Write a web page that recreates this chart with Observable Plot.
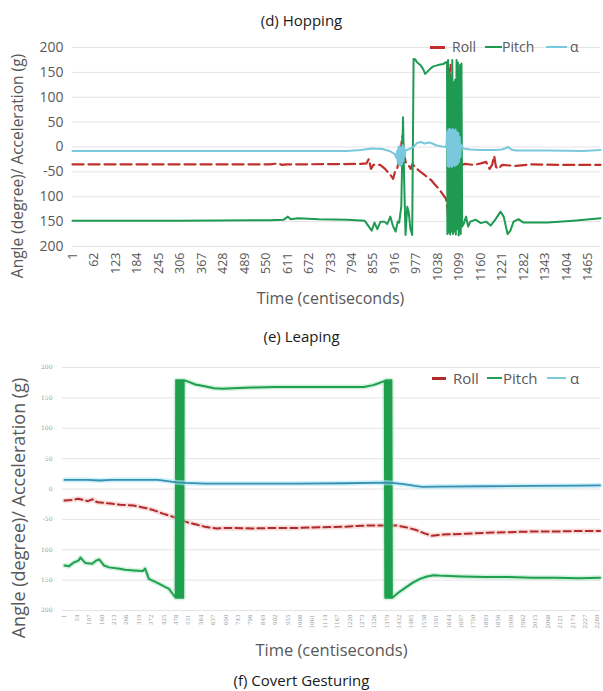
<!DOCTYPE html>
<html><head><meta charset="utf-8">
<script src="https://cdn.jsdelivr.net/npm/d3@7"></script>
<script src="https://cdn.jsdelivr.net/npm/@observablehq/plot@0.6"></script>
<style>
body{margin:0;background:#fff;font-family:"Open Sans",sans-serif;}
#wrap{position:relative;width:603px;height:691px;overflow:hidden;background:#fff;}
.t{position:absolute;left:0;width:603px;text-align:center;color:#1a1a1a;font-size:15px;line-height:20px;}
.chart{position:absolute;left:0;}
.lg{position:absolute;color:#595959;line-height:18px;white-space:nowrap;}
.sw{position:absolute;height:0;}
</style></head><body><div id="wrap">
<div class="t" style="top:10px">(d) Hopping</div>
<div class="chart" id="c1" style="top:30px"></div>
<div class="t" style="top:326px">(e) Leaping</div>
<div class="chart" id="c2" style="top:350px"></div>
<div class="t" style="top:670px">(f) Covert Gesturing</div>
</div>
<script>
// ---------- shared ----------
const seriesNames = ["Roll", "Pitch", "α"];
const yTickVals = [200, 150, 100, 50, 0, -50, -100, -150, -200];
const yTickLabels = ["200", "150", "100", "50", "0", "-50", "100", "150", "200"];
const yTitle = "Angle (degree)/ Acceleration (g)";
const xTitle = "Time (centiseconds)";

// ---------- (d) Hopping ----------
const hopTicksX = [1,62,123,184,245,306,367,428,489,550,611,672,733,794,855,916,977,1038,1099,1160,1221,1282,1343,1404,1465];
const hopRoll = [[0,-35],[300,-35],[560,-35],[585,-33],[595,-36],[610,-35],[820,-34],[835,-33],[842,-24],[848,-44],[855,-36],[874,-36],[888,-44],[903,-56],[911,-64],[916,-50],[922,-44],[930,-20],[937,22],[942,-10],[946,-30],[952,-34],[961,-44],[966,-34],[975,-42],[989,-50],[1000,-56],[1018,-66],[1030,-76],[1041,-84],[1052,-95],[1061,-104],[1066,-130],[1068,-170],[1070,160],[1072,90],[1074,165],[1076,-150],[1080,-170],[1086,-40],[1092,-120],[1098,-60],[1104,-36],[1115,-34],[1140,-36],[1160,-33],[1175,-30],[1185,-44],[1192,-36],[1198,-18],[1203,-40],[1210,-44],[1220,-36],[1260,-38],[1300,-35],[1400,-36],[1500,-36]];
const hopPitch = [[0,-148],[300,-148],[560,-147],[600,-146],[612,-140],[620,-145],[640,-143],[700,-145],[780,-146],[830,-148],[842,-160],[850,-168],[858,-152],[866,-165],[875,-150],[886,-150],[894,-155],[903,-140],[910,-158],[918,-170],[924,-150],[928,-152],[934,-120],[939,60],[942,-60],[946,-177],[951,-120],[955,-130],[960,-165],[965,-177],[969,177],[974,176],[978,171],[983,168],[988,165],[995,158],[1002,147],[1009,152],[1016,157],[1025,162],[1035,164],[1045,166],[1054,167],[1060,170],[1064,171],
[1065,-175],[1067,175],[1069,-172],[1071,150],[1073,-176],[1075,140],[1077,-170],[1079,175],[1081,-175],[1083,130],[1085,-170],[1087,135],[1089,-176],[1091,175],[1093,-165],[1095,170],[1097,-178],[1099,-120],[1101,165],[1103,-175],[1105,168],[1107,-160],
[1111,-155],[1118,-140],[1124,-160],[1130,-150],[1145,-146],[1160,-153],[1175,-150],[1188,-158],[1202,-145],[1216,-130],[1225,-140],[1236,-175],[1244,-168],[1253,-150],[1267,-145],[1281,-152],[1349,-152],[1423,-148],[1500,-143]];
const hopAlpha = [[0,-8],[500,-8],[780,-8],[820,-6],[850,-3],[880,-4],[900,-8],[915,-14],
[920,-22],[922,-8],[924,-32],[926,0],[928,-36],[930,2],[932,-38],[934,-2],[936,-34],[938,4],[940,-28],[942,0],[944,-20],[946,-6],[950,-6],
[960,-3],[969,0],[978,8],[990,10],[1000,7],[1015,9],[1035,3],[1050,1],[1062,0],
[1064,30],[1066,-38],[1068,35],[1070,-40],[1072,36],[1074,-38],[1076,34],[1078,-40],[1080,36],[1082,-36],[1084,33],[1086,-38],[1088,35],[1090,-36],[1092,30],[1094,-34],[1096,28],[1098,-30],[1100,20],[1102,-20],[1104,5],
[1110,-3],[1130,-5],[1160,-6],[1200,-6],[1220,-5],[1232,-2],[1238,0],[1246,-5],[1260,-7],[1350,-7],[1450,-8],[1500,-6]];

// ---------- (e) Leaping ----------
const leapTicksX = [1,54,107,160,213,266,319,372,425,478,531,584,637,690,743,796,849,902,955,1008,1061,1114,1167,1220,1273,1326,1379,1432,1485,1538,1591,1644,1697,1750,1803,1856,1909,1962,2015,2068,2121,2174,2227,2280];
const leapRoll = [[1,-19],[30,-18],[60,-16],[80,-18],[100,-20],[120,-17],[142,-22],[170,-23],[198,-24],[240,-26],[296,-27],[330,-30],[356,-32],[390,-36],[424,-41],[467,-46],[500,-51],[527,-55],[560,-58],[600,-62],[650,-65],[700,-64],[800,-65],[900,-64],[1000,-64],[1100,-63],[1200,-62],[1300,-60],[1380,-60],[1420,-60],[1460,-63],[1500,-67],[1540,-73],[1570,-77],[1620,-75],[1700,-74],[1800,-72],[1900,-71],[2000,-70],[2100,-70],[2200,-69],[2290,-69]];
const leapPitch = [[1,-126],[20,-127],[40,-121],[60,-118],[69,-113],[90,-122],[119,-123],[135,-118],[149,-116],[170,-126],[191,-129],[230,-131],[260,-133],[296,-134],[335,-135],[345,-131],[352,-138],[361,-148],[400,-155],[430,-161],[446,-164],[462,-172],[474,-178],
[476,-179],[478,179],[480,-179],[482,179],[484,-179],[486,179],[488,-179],[490,179],[492,-179],[494,179],[496,-179],[498,179],[500,-179],[502,179],[504,-179],[506,179],[508,-179],[510,179],
[520,178],[535,176],[560,172],[600,169],[640,166],[680,165],[720,166],[800,167],[900,168],[1000,168],[1100,168],[1200,168],[1280,168],[1320,171],[1350,175],[1370,178],
[1372,-179],[1374,179],[1376,-179],[1378,179],[1380,-179],[1382,179],[1384,-179],[1386,179],[1388,-179],[1390,179],[1392,-179],[1394,179],[1396,-179],[1398,179],[1400,-179],[1402,-179],
[1430,-170],[1460,-162],[1490,-154],[1520,-148],[1550,-144],[1580,-142],[1620,-143],[1700,-144],[1800,-145],[1900,-145],[2000,-146],[2100,-146],[2200,-147],[2290,-146]];
const leapAlpha = [[1,15],[100,15],[150,14],[200,15],[300,15],[400,15],[440,13],[480,11],[520,10],[600,9],[800,9],[1000,9],[1200,9.5],[1370,10.5],[1400,10],[1450,8],[1500,5],[1530,3.5],[1600,4],[1800,4.5],[2000,5],[2200,5.5],[2290,6]];

const fmtY = d => yTickLabels[yTickVals.indexOf(d)];
const X = d => d[0], Y = d => d[1];

function build(cfg) {
  const halo = cfg.halo;
  const marks = [
    Plot.gridY(yTickVals, {stroke: "#e4e4e4", strokeOpacity: 1, strokeWidth: 1}),
    Plot.axisY(yTickVals, {tickFormat: fmtY, tickSize: 0, tickPadding: cfg.yPad, fontSize: cfg.yFont, fill: cfg.tickColor, fontFamily: cfg.tickFamily, label: null}),
    Plot.axisX(cfg.ticksX, {tickFormat: d => String(d), tickRotate: -90, tickSize: 0, tickPadding: cfg.xPad, fontSize: cfg.xFont, fill: cfg.tickColor, fontFamily: cfg.tickFamily, label: null})
  ];
  if (halo) {
    marks.push(Plot.line(cfg.roll, {x: X, y: Y, stroke: "#f3b9b9", strokeWidth: 5, strokeOpacity: 0.5}));
  }
  marks.push(Plot.line(cfg.roll, {x: X, y: Y, stroke: cfg.cRoll, strokeWidth: cfg.wRoll, strokeDasharray: cfg.dash}));
  if (halo) {
    marks.push(Plot.line(cfg.pitch, {x: X, y: Y, stroke: "#a6e3bd", strokeWidth: 5, strokeOpacity: 0.5}));
  }
  marks.push(Plot.line(cfg.pitch, {x: X, y: Y, stroke: cfg.cPitch, strokeWidth: cfg.wPitch}));
  if (halo) {
    marks.push(Plot.line(cfg.alpha, {x: X, y: Y, stroke: "#a9e8f6", strokeWidth: 5, strokeOpacity: 0.6}));
  }
  marks.push(Plot.line(cfg.alpha, {x: X, y: Y, stroke: cfg.cAlpha, strokeWidth: cfg.wAlpha}));
  marks.push(Plot.text([yTitle], {text: d => d, frameAnchor: "left", textAnchor: "middle", lineAnchor: "middle", rotate: -90, dx: cfg.yTitleDx, dy: cfg.yTitleDy, fontSize: cfg.titleFont, fill: "#595959", fontFamily: "Open Sans"}));
  marks.push(Plot.text([xTitle], {text: d => d, frameAnchor: "bottom", textAnchor: "middle", lineAnchor: "middle", dx: cfg.xTitleDx, dy: cfg.xTitleDy, fontSize: cfg.xTitleFont, fill: "#595959", fontFamily: "Open Sans"}));
  return Plot.plot({
    width: 603, height: cfg.height,
    marginLeft: cfg.ml, marginRight: 3, marginTop: 17, marginBottom: cfg.mb,
    x: {domain: cfg.xDomain, axis: null},
    y: {domain: [-200, 200], axis: null},
    style: {fontFamily: "Open Sans", background: "transparent", overflow: "visible"},
    marks
  });
}

document.getElementById("c1").appendChild(build({
  height: 280, ml: 72, mb: 64, xDomain: [0, 1500], ticksX: hopTicksX,
  roll: hopRoll, pitch: hopPitch, alpha: hopAlpha,
  cRoll: "#c0302c", cPitch: "#1f9a52", cAlpha: "#79c8de",
  wRoll: 2.2, wPitch: 2, wAlpha: 2, dash: "11,5", halo: false,
  yPad: 9, yFont: 14, xPad: 6, xFont: 12.5, tickColor: "#595959", tickFamily: "Open Sans",
  yTitleDx: -54, yTitleDy: 19, titleFont: 15.5, xTitleDx: -6, xTitleDy: 52, xTitleFont: 16
}));

document.getElementById("c2").appendChild(build({
  height: 310, ml: 62, mb: 50, xDomain: [-8, 2292], ticksX: leapTicksX,
  roll: leapRoll, pitch: leapPitch, alpha: leapAlpha,
  cRoll: "#b02a2a", cPitch: "#1ea04e", cAlpha: "#3a8fb0",
  wRoll: 2, wPitch: 2, wAlpha: 1.8, dash: "7,4", halo: true,
  yPad: 10, yFont: 6, xPad: 4, xFont: 5.5, tickColor: "#9a9a9a", tickFamily: "DejaVu Serif",
  yTitleDx: -43, yTitleDy: 19, titleFont: 18, xTitleDx: 0, xTitleDy: 40, xTitleFont: 16.5
}));

// legends
const wrap = document.getElementById("wrap");
function legend(top, fontSize, colors, items) {
  items.forEach((it, i) => {
    const sw = document.createElement("div");
    sw.className = "sw";
    sw.style.left = it.sx + "px"; sw.style.width = it.sw + "px";
    sw.style.top = (top - it.th / 2) + "px";
    sw.style.borderTop = it.th + "px solid " + colors[i];
    wrap.appendChild(sw);
    const tx = document.createElement("div");
    tx.className = "lg";
    tx.style.left = it.tx + "px"; tx.style.top = (top - 9) + "px";
    tx.style.fontSize = fontSize + "px";
    tx.textContent = seriesNames[i];
    wrap.appendChild(tx);
  });
}
legend(47, 14, ["#c0302c", "#1f9a52", "#79c8de"], [
  {sx: 430, sw: 15, th: 3, tx: 452}, {sx: 485, sw: 17, th: 2.5, tx: 502}, {sx: 546, sw: 21, th: 2, tx: 570}
]);
legend(378, 15, ["#b02a2a", "#1ea04e", "#7cc9de"], [
  {sx: 432, sw: 14, th: 3, tx: 453}, {sx: 487, sw: 15, th: 2.5, tx: 503}, {sx: 547, sw: 19, th: 2, tx: 570}
]);
</script>
</body></html>
